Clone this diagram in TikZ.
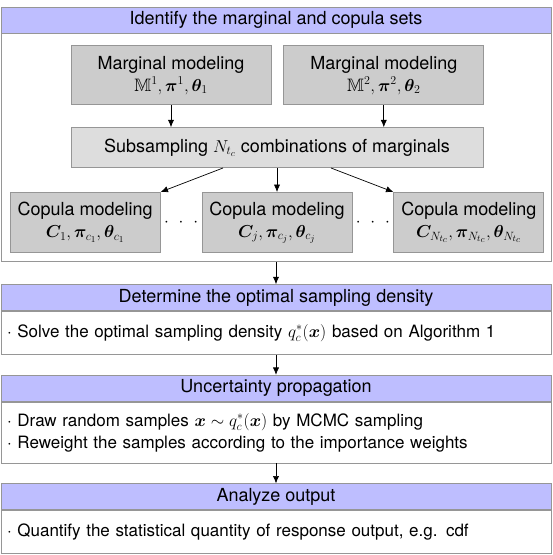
\documentclass[tikz,border=0pt]{standalone}
\usepackage[no-math]{fontspec}
\setmainfont{TeX Gyre Heros}
\usepackage{amsmath}
\usepackage{amssymb}
\usepackage{bm}
\usepackage{tikz}
\usetikzlibrary{arrows.meta, positioning}
\definecolor{headblue}{RGB}{190, 190, 255}
\definecolor{framegray}{RGB}{150, 150, 150}
\definecolor{margray}{RGB}{204, 204, 204}
\definecolor{subgray}{RGB}{221, 221, 221}
\tikzstyle{arrow} = [-{Latex[length=2.6mm, width=2.2mm]}, line width=0.7pt]
\tikzstyle{header} = [rectangle, minimum width=550pt, minimum height=26pt, inner sep=0pt,
                      text centered, draw=framegray, fill=headblue, line width=0.8pt]
\tikzstyle{body} = [rectangle, text width=538pt, inner xsep=6pt, inner ysep=0pt,
                    align=left, draw=framegray, fill=white, line width=0.8pt,
                    font=\fontsize{17}{22}\selectfont]
\tikzstyle{model} = [rectangle, align=center, inner sep=0pt, draw=framegray,
                     fill=margray, line width=0.8pt]

\begin{document}
\begin{tikzpicture}[font=\fontsize{18}{22}\selectfont]
    \useasboundingbox (0,0) rectangle (553pt,-555pt);
    % Marginal and copula sets
    \node[header] (hdone) at (276pt,-20pt) {Identify the marginal and copula sets};
    \node[body, below=0pt of hdone, minimum height=228pt] (bodyone) {};
    \node[model, minimum width=200pt, minimum height=59pt, below right=12pt and 70pt of hdone.south west] (margone)
        {Marginal modeling\\$\mathbb{M}^1, \bm{\pi}^1, \bm{\theta}_1$};
    \node[model, minimum width=200pt, minimum height=59pt, right=12pt of margone] (margtwo)
        {Marginal modeling\\$\mathbb{M}^2, \bm{\pi}^2, \bm{\theta}_2$};
    \node[model, fill=subgray, minimum width=412pt, minimum height=40pt, below right=22pt and 0pt of margone.south west] (subbox)
        {Subsampling $N_{t_c}$ combinations of marginals};
    \node[model, minimum width=150pt, minimum height=60pt, below=24pt of subbox] (copmid)
        {Copula modeling\\$\bm{C}_j, \bm{\pi}_{c_j}, \bm{\theta}_{c_j}$};
    \node[model, minimum width=150pt, minimum height=60pt, left=41pt of copmid] (copone)
        {Copula modeling\\$\bm{C}_1, \bm{\pi}_{c_1}, \bm{\theta}_{c_1}$};
    \node[model, minimum width=150pt, minimum height=60pt, right=41pt of copmid] (copthree)
        {Copula modeling\\$\bm{C}_{N_{t_c}}, \bm{\pi}_{N_{t_c}}, \bm{\theta}_{N_{t_c}}$};
    \path (copone) -- (copmid) node[midway] (dotsone) {$\cdot\hspace{6pt}\cdot\hspace{6pt}\cdot$};
    \path (copmid) -- (copthree) node[midway] (dotstwo) {$\cdot\hspace{6pt}\cdot\hspace{6pt}\cdot$};

    % Remaining steps
    \node[header, below=22pt of bodyone] (hdtwo) {Determine the optimal sampling density};
    \node[body, below=0pt of hdtwo, minimum height=43pt] (bodytwo)
        {· Solve the optimal sampling density $q_c^*(\bm{x})$ based on Algorithm 1};
    \node[header, below=20pt of bodytwo] (hdthree) {Uncertainty propagation};
    \node[body, below=0pt of hdthree, minimum height=61pt] (bodythree)
        {· Draw random samples $\bm{x} \sim q_c^*(\bm{x})$ by MCMC sampling\\
         · Reweight the samples according to the importance weights};
    \node[header, below=20pt of bodythree] (hdfour) {Analyze output};
    \node[body, below=0pt of hdfour, minimum height=43pt] (bodyfour)
        {· Quantify the statistical quantity of response output, e.g. cdf};

    % Arrows
    \draw[arrow] (margone) -- (margone |- subbox.north);
    \draw[arrow] (margtwo) -- (margtwo |- subbox.north);
    \draw[arrow] ([xshift=-54pt]subbox.south) -- (copone.north east);
    \draw[arrow] (subbox) -- (copmid);
    \draw[arrow] ([xshift=54pt]subbox.south) -- (copthree.north west);
    \draw[arrow] (bodyone) -- (hdtwo);
    \draw[arrow] (bodytwo) -- (hdthree);
    \draw[arrow] (bodythree) -- (hdfour);
\end{tikzpicture}
\end{document}
